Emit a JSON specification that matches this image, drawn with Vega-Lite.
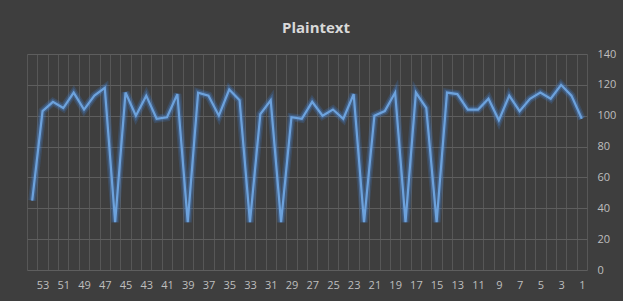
{
  "$schema": "https://vega.github.io/schema/vega-lite/v6.json",
  "width": 560,
  "height": 216,
  "autosize": {"type": "none"},
  "padding": {"left": 27, "top": 54, "right": 36, "bottom": 31},
  "background": "#3e3e3e",
  "config": {
    "view": {"stroke": null},
    "font": "Open Sans"
  },
  "title": {
    "text": "Plaintext",
    "fontSize": 15,
    "fontWeight": "bold",
    "color": "#d9d9d9",
    "font": "Open Sans",
    "anchor": "middle",
    "frame": "bounds",
    "offset": 12
  },
  "data": {
    "values": [
      {"n": 54, "v": 45}, {"n": 53, "v": 103}, {"n": 52, "v": 109}, {"n": 51, "v": 105},
      {"n": 50, "v": 115}, {"n": 49, "v": 104}, {"n": 48, "v": 113}, {"n": 47, "v": 118},
      {"n": 46, "v": 31}, {"n": 45, "v": 115}, {"n": 44, "v": 100}, {"n": 43, "v": 113},
      {"n": 42, "v": 98}, {"n": 41, "v": 99}, {"n": 40, "v": 114}, {"n": 39, "v": 31},
      {"n": 38, "v": 115}, {"n": 37, "v": 113}, {"n": 36, "v": 100}, {"n": 35, "v": 117},
      {"n": 34, "v": 110}, {"n": 33, "v": 31}, {"n": 32, "v": 101}, {"n": 31, "v": 110},
      {"n": 30, "v": 31}, {"n": 29, "v": 99}, {"n": 28, "v": 98}, {"n": 27, "v": 109},
      {"n": 26, "v": 100}, {"n": 25, "v": 104}, {"n": 24, "v": 98}, {"n": 23, "v": 114},
      {"n": 22, "v": 31}, {"n": 21, "v": 100}, {"n": 20, "v": 103}, {"n": 19, "v": 115},
      {"n": 18, "v": 31}, {"n": 17, "v": 115}, {"n": 16, "v": 105}, {"n": 15, "v": 31},
      {"n": 14, "v": 115}, {"n": 13, "v": 114}, {"n": 12, "v": 104}, {"n": 11, "v": 104},
      {"n": 10, "v": 111}, {"n": 9, "v": 97}, {"n": 8, "v": 113}, {"n": 7, "v": 103},
      {"n": 6, "v": 111}, {"n": 5, "v": 115}, {"n": 4, "v": 111}, {"n": 3, "v": 120},
      {"n": 2, "v": 113}, {"n": 1, "v": 98}
    ]
  },
  "encoding": {
    "x": {
      "field": "n",
      "type": "ordinal",
      "sort": "descending",
      "bandPosition": 0.5,
      "scale": {"type": "band", "paddingInner": 0, "paddingOuter": 0},
      "axis": {
        "title": null,
        "tickBand": "extent",
        "grid": true,
        "gridColor": "#575757",
        "gridWidth": 1,
        "ticks": false,
        "domain": false,
        "labelAngle": 0,
        "labelExpr": "datum.value % 2 == 1 ? datum.label : ''",
        "labelColor": "#bfbfbf",
        "labelFontSize": 11,
        "labelPadding": 9,
        "labelOverlap": false
      }
    },
    "y": {
      "field": "v",
      "type": "quantitative",
      "scale": {"domain": [0, 140], "nice": false},
      "axis": {
        "orient": "right",
        "title": null,
        "values": [0, 20, 40, 60, 80, 100, 120, 140],
        "grid": true,
        "gridColor": "#5e5e5e",
        "ticks": false,
        "domain": false,
        "labelAlign": "left",
        "labelColor": "#bfbfbf",
        "labelFontSize": 11,
        "labelPadding": 10
      }
    }
  },
  "layer": [
    {"mark": {"type": "line", "color": "#3f7fd0", "strokeWidth": 8, "opacity": 0.22, "strokeJoin": "miter"}},
    {"mark": {"type": "line", "color": "#4f8fe0", "strokeWidth": 5, "opacity": 0.3, "strokeJoin": "miter"}},
    {"mark": {"type": "line", "color": "#6da2dc", "strokeWidth": 2.2, "strokeJoin": "miter"}}
  ]
}
